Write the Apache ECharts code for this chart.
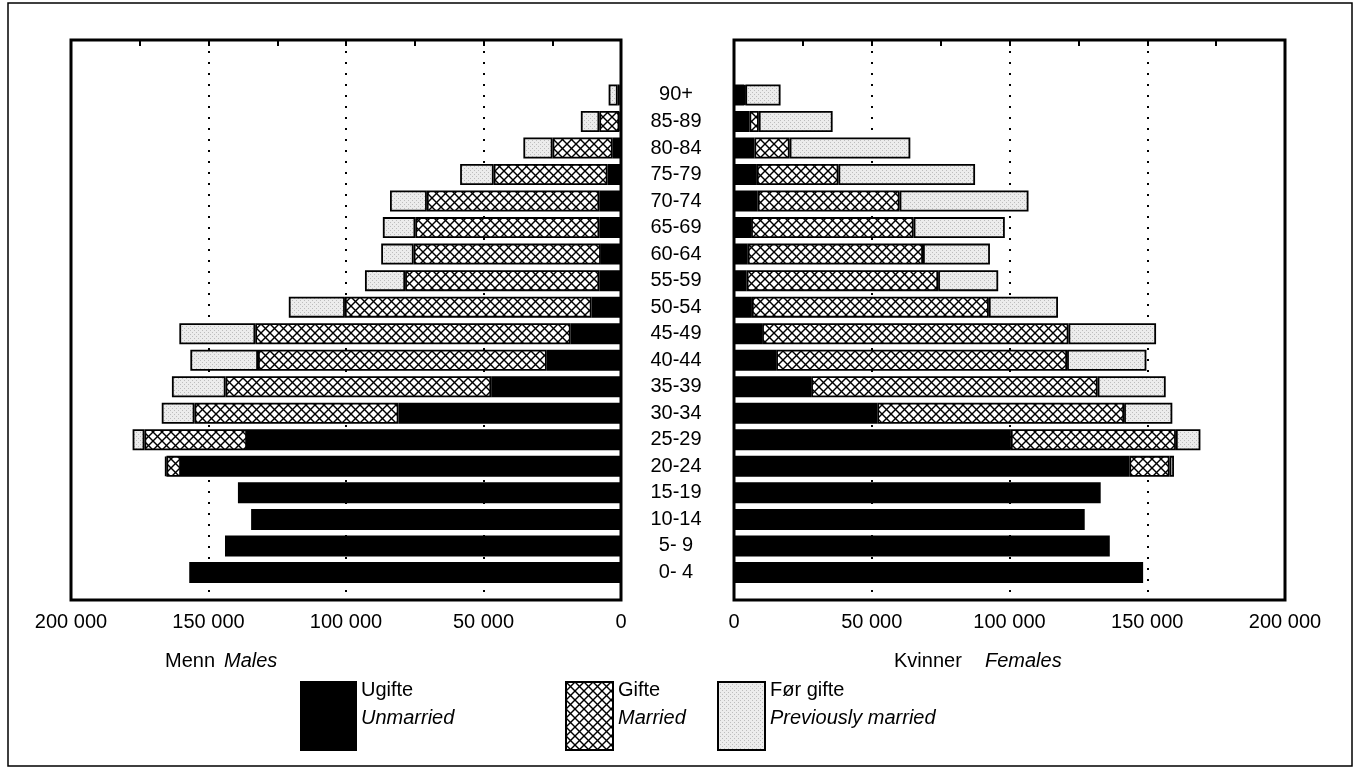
<!DOCTYPE html>
<html>
<head>
<meta charset="utf-8">
<script src="https://cdn.jsdelivr.net/npm/echarts@6/dist/echarts.min.js"></script>
<style>
html,body{margin:0;padding:0;background:#fff;}
#c{width:1359px;height:768px;}
</style>
</head>
<body>
<div id="c"></div>
<script>
// ---- data ----
const categories = ['0- 4','5- 9','10-14','15-19','20-24','25-29','30-34','35-39','40-44','45-49','50-54','55-59','60-64','65-69','70-74','75-79','80-84','85-89','90+'];
const maleUnmarried   = [157000,144000,134500,139300,160000,136000,80900,47200,27000,18300,10700,7900,7300,7900,7900,4900,3000,600,500];
const maleMarried     = ['-','-','-','-',5300,37300,74200,96600,105000,114700,89700,70600,68100,66900,62700,41400,21900,7300,700];
const malePrevious    = ['-','-','-','-',500,4300,11900,19500,24600,27600,20400,14600,11800,11800,13400,12200,10600,6700,3300];
const femaleUnmarried = [148500,136400,127300,133100,143500,100500,52000,28000,15300,10200,6500,4600,5000,6200,8600,8300,7400,5600,3800];
const femaleMarried   = ['-','-','-','-',14600,59900,89600,104000,105600,111200,86000,69500,63600,59000,51500,29600,12800,3400,300];
const femalePrevious  = ['-','-','-','-',1600,8900,17500,24700,28800,31800,25100,21800,24300,33100,46800,49600,43800,26800,12800];
const xTicks = [0, 50000, 100000, 150000, 200000];
const seriesNames = ['Ugifte','Gifte','Før gifte'];
const seriesNamesEn = {'Ugifte':'Unmarried','Gifte':'Married','Før gifte':'Previously married'};

// ---- patterns ----
function crossHatch(){
  const s = 9, c = document.createElement('canvas');
  c.width = s; c.height = s;
  const g = c.getContext('2d');
  g.fillStyle = '#fff'; g.fillRect(0,0,s,s);
  g.strokeStyle = '#000'; g.lineWidth = 1.4;
  for (const o of [-s,0,s]) {
    g.beginPath(); g.moveTo(o-1,-1); g.lineTo(o+s+1,s+1); g.stroke();
    g.beginPath(); g.moveTo(o+s+1,-1); g.lineTo(o-1,s+1); g.stroke();
  }
  return {image:c, repeat:'repeat'};
}
function stipple(){
  const s = 4, c = document.createElement('canvas');
  c.width = s; c.height = s;
  const g = c.getContext('2d');
  g.fillStyle = '#ececec'; g.fillRect(0,0,s,s);
  g.fillStyle = '#bdbdbd'; g.fillRect(0,0,1,1); g.fillRect(2,2,1,1);
  return {image:c, repeat:'repeat'};
}
const FONT = "'Liberation Sans Narrow','Arial Narrow','Liberation Sans',sans-serif";
const FS = 20;
const hatch = crossHatch(), dots = stipple();
const styles = {
  'Ugifte':   {color:'#000', borderColor:'#000', borderWidth:1.8},
  'Gifte':    {color:hatch, borderColor:'#000', borderWidth:1.8},
  'Før gifte':{color:dots, borderColor:'#000', borderWidth:1.8}
};
const fmt = v => v === 0 ? '0' : (v/1000) + ' 000';

const BAR_TOP = 81.7, BAR_H = 504, FR_TOP = 40, FR_H = 560;
const M_LEFT = 71, M_W = 550, F_LEFT = 734, F_W = 551;

function bar(name, data, idx, stack){
  return {type:'bar', name, data, stack, xAxisIndex:idx, yAxisIndex:idx,
    barWidth:21, itemStyle:styles[name], emphasis:{disabled:true}};
}
function frameAxis(grid, inverse){
  return {type:'value', gridIndex:grid, min:0, max:200000, interval:50000, inverse,
    position:'bottom', axisLine:{show:false}, axisTick:{show:false},
    axisLabel:{margin:12, fontSize:FS, fontFamily:FONT, color:'#000', formatter:fmt},
    splitLine:{show:true, showMinLine:false, showMaxLine:false,
      lineStyle:{type:[2,9], color:'#000', width:2}}};
}
function topTicks(grid, inverse){
  return {type:'value', gridIndex:grid, min:0, max:200000, interval:25000, inverse,
    position:'top', axisLine:{show:false}, axisLabel:{show:false}, splitLine:{show:false},
    axisTick:{show:true, inside:true, length:6, lineStyle:{color:'#000', width:2}}};
}
function legendFor(name, left, w){
  return {data:[name], left, top:676, padding:0, itemWidth:w, itemHeight:68, icon:'rect',
    selectedMode:false, itemGap:0,
    formatter: n => n + '\n{i|' + seriesNamesEn[n] + '}',
    textStyle:{fontSize:FS, fontFamily:FONT, color:'#000', lineHeight:28, padding:[0,0,24,0],
      rich:{i:{fontStyle:'italic', fontSize:FS, fontFamily:FONT, color:'#000', lineHeight:28}}}};
}

const chart = echarts.init(document.getElementById('c'), null, {renderer:'canvas'});
chart.setOption({
  animation:false,
  backgroundColor:'#fff',
  grid:[
    {left:M_LEFT, top:BAR_TOP, width:M_W, height:BAR_H},
    {left:F_LEFT, top:BAR_TOP, width:F_W, height:BAR_H},
    {left:M_LEFT, top:FR_TOP, width:M_W, height:FR_H, show:true, borderColor:'#000', borderWidth:3, backgroundColor:'transparent'},
    {left:F_LEFT, top:FR_TOP, width:F_W, height:FR_H, show:true, borderColor:'#000', borderWidth:3, backgroundColor:'transparent'}
  ],
  xAxis:[
    {type:'value', gridIndex:0, min:0, max:200000, inverse:true, show:false},
    {type:'value', gridIndex:1, min:0, max:200000, show:false},
    frameAxis(2, true),
    frameAxis(3, false),
    topTicks(2, true),
    topTicks(3, false)
  ],
  yAxis:[
    {type:'category', gridIndex:0, data:categories, position:'right',
      axisLine:{show:false, onZero:false}, axisTick:{show:false},
      axisLabel:{interval:0, align:'center', margin:55, fontSize:FS, fontFamily:FONT, color:'#000', padding:[8,0,0,0]}},
    {type:'category', gridIndex:1, data:categories, show:false},
    {type:'value', gridIndex:2, min:0, max:1, show:false},
    {type:'value', gridIndex:3, min:0, max:1, show:false}
  ],
  legend:[legendFor('Ugifte', 300, 55), legendFor('Gifte', 565, 47), legendFor('Før gifte', 717, 47)],
  series:[
    bar('Ugifte', maleUnmarried, 0, 'm'),
    bar('Gifte', maleMarried, 0, 'm'),
    bar('Før gifte', malePrevious, 0, 'm'),
    bar('Ugifte', femaleUnmarried, 1, 'f'),
    bar('Gifte', femaleMarried, 1, 'f'),
    bar('Før gifte', femalePrevious, 1, 'f')
  ],
  graphic:[
    {type:'rect', shape:{x:8, y:3, width:1344, height:763}, style:{fill:'none', stroke:'#000', lineWidth:1.5}, silent:true, z:-1},
    {type:'text', x:165, y:661, style:{text:'Menn', fontSize:FS, fontFamily:FONT, fill:'#000', verticalAlign:'middle'}},
    {type:'text', x:224, y:661, style:{text:'Males', fontSize:FS, fontFamily:FONT, fontStyle:'italic', fill:'#000', verticalAlign:'middle'}},
    {type:'text', x:894, y:661, style:{text:'Kvinner', fontSize:FS, fontFamily:FONT, fill:'#000', verticalAlign:'middle'}},
    {type:'text', x:985, y:661, style:{text:'Females', fontSize:FS, fontFamily:FONT, fontStyle:'italic', fill:'#000', verticalAlign:'middle'}}
  ]
});
</script>
</body>
</html>
